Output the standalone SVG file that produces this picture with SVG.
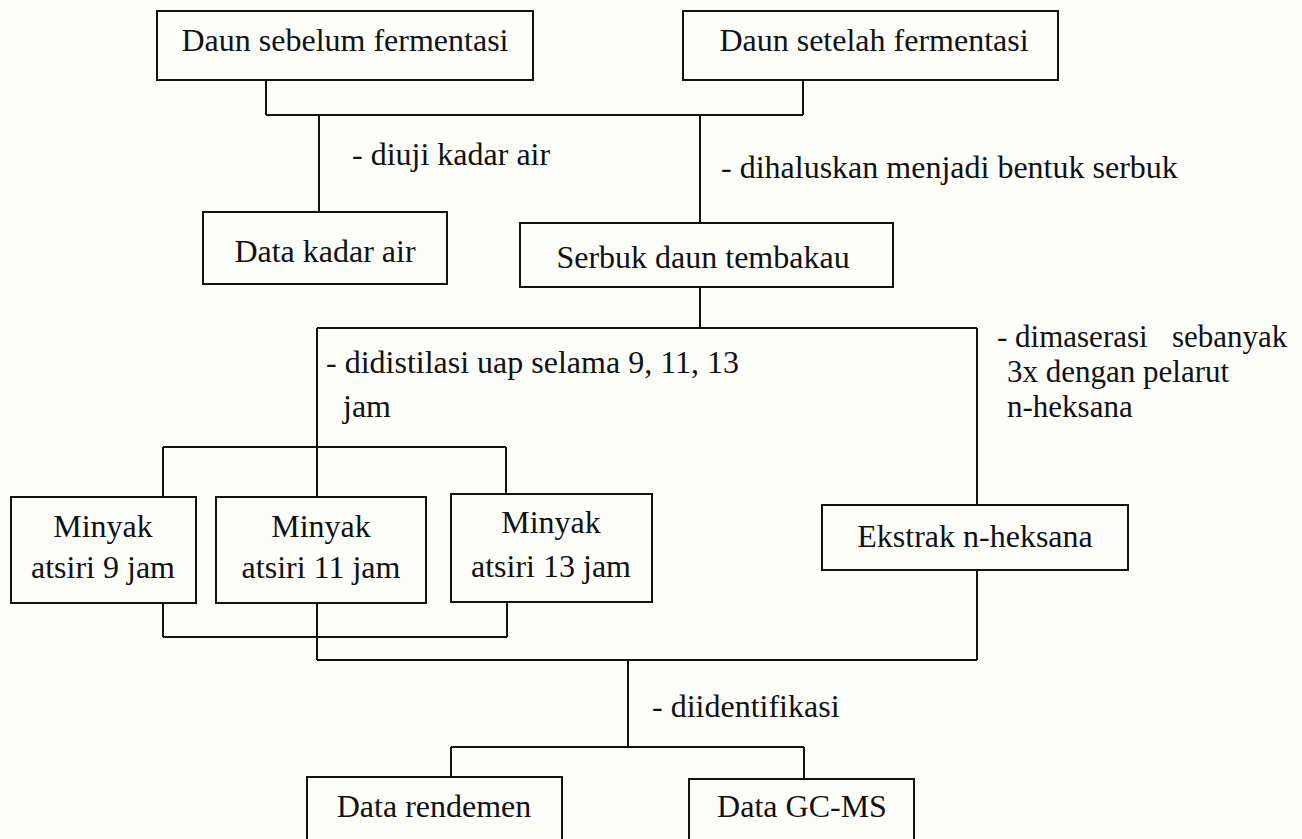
<svg xmlns="http://www.w3.org/2000/svg" width="1302" height="839" viewBox="0 0 1302 839">
<style>
.box{fill:none;stroke:#111;stroke-width:2}
.ln{fill:none;stroke:#111;stroke-width:2}
text{font-family:"Liberation Serif","Times New Roman",serif;font-size:32px;fill:#111}
.c{text-anchor:middle}
.s{font-size:31px}
</style>
<rect x="0" y="0" width="1302" height="839" fill="#fdfdf9"/>
<g id="connectors">
<path class="ln" d="M266,80V115M803,80V115M266,115H803"/>
<path class="ln" d="M319,115V212"/>
<path class="ln" d="M700,115V223"/>
<path class="ln" d="M700,287V328M317,328H977"/>
<path class="ln" d="M317,328V497M163,447H506M163,447V497M506,447V494"/>
<path class="ln" d="M977,328V505"/>
<path class="ln" d="M163,603V637M507,602V637M163,637H507"/>
<path class="ln" d="M317,603V660M317,660H977M977,570V660"/>
<path class="ln" d="M628,660V747M451,747H804M451,747V777M804,747V779"/>
</g>
<g id="labels">
<text x="352" y="165">- diuji kadar air</text>
<text x="721" y="178">- dihaluskan menjadi bentuk serbuk</text>
<text x="326" y="373">- didistilasi uap selama 9, 11, 13</text>
<text x="343" y="417">jam</text>
<text class="s" x="997" y="347">- dimaserasi</text>
<text class="s" x="1172" y="347">sebanyak</text>
<text class="s" x="1007" y="382">3x dengan pelarut</text>
<text class="s" x="1007" y="417">n-heksana</text>
<text x="652" y="717">- diidentifikasi</text>
</g>
<g id="n1"><rect class="box" x="157" y="11" width="376" height="69"/><text class="c" x="345" y="51">Daun sebelum fermentasi</text></g>
<g id="n2"><rect class="box" x="683" y="11" width="375" height="69"/><text class="c" x="874" y="51">Daun setelah fermentasi</text></g>
<g id="n3"><rect class="box" x="203" y="212" width="244" height="72"/><text class="c" x="325" y="262">Data kadar air</text></g>
<g id="n4"><rect class="box" x="520" y="223" width="373" height="64"/><text class="c" x="703" y="268">Serbuk daun tembakau</text></g>
<g id="n5"><rect class="box" x="11" y="497" width="185" height="106"/><text class="c" x="103" y="537">Minyak</text><text class="c" x="103" y="578">atsiri 9 jam</text></g>
<g id="n6"><rect class="box" x="216" y="497" width="210" height="106"/><text class="c" x="321" y="537">Minyak</text><text class="c" x="321" y="578">atsiri 11 jam</text></g>
<g id="n7"><rect class="box" x="451" y="494" width="201" height="108"/><text class="c" x="551" y="533">Minyak</text><text class="c" x="551" y="577">atsiri 13 jam</text></g>
<g id="n8"><rect class="box" x="822" y="505" width="306" height="65"/><text class="c" x="975" y="547">Ekstrak n-heksana</text></g>
<g id="n9"><rect class="box" x="307" y="777" width="255" height="90"/><text class="c" x="434" y="817">Data rendemen</text></g>
<g id="n10"><rect class="box" x="689" y="779" width="225" height="90"/><text class="c" x="802" y="817">Data GC-MS</text></g>
</svg>
